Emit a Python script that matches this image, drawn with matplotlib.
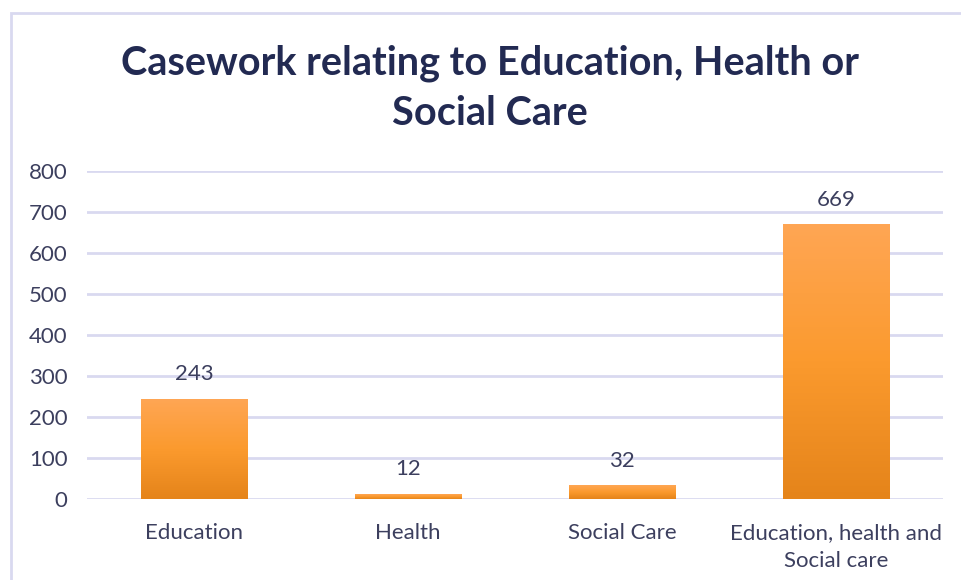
import matplotlib.pyplot as plt
import matplotlib.patches as mpatches
from matplotlib.colors import LinearSegmentedColormap
import numpy as np

categories = ["Education", "Health", "Social Care", "Education, health and\nSocial care"]
cases = [243, 12, 32, 669]
y_ticks = [0, 100, 200, 300, 400, 500, 600, 700, 800]

title_color = "#222a52"
text_color = "#3c3f5e"
grid_color = "#d9d9f0"

plt.rcParams['font.family'] = ['Lato', 'DejaVu Sans']

fig = plt.figure(figsize=(9.61, 5.8), dpi=100)
ax = fig.add_axes([87 / 961, 1 - 499 / 580, (943 - 87) / 961, (499 - 171) / 580])

# outer chart frame
fig.patches.append(mpatches.Rectangle((11 / 961, 0 - 0.1), 1.2, 1 - 13 / 580 + 0.1,
                                      transform=fig.transFigure, fill=False,
                                      edgecolor=grid_color, linewidth=2))

x = np.arange(len(categories))
bars = ax.bar(x, cases, width=0.5, color="#f7962b", edgecolor="none", zorder=2)

# vertical orange gradient, light at the top, darker at the bottom
cmap = LinearSegmentedColormap.from_list("bar", ["#e5841a", "#fb9a2e", "#ffa654"])
grad = np.linspace(0, 1, 256).reshape(-1, 1)
for b in bars:
    x0, w, h = b.get_x(), b.get_width(), b.get_height()
    ax.imshow(grad, cmap=cmap, origin="lower", aspect="auto",
              extent=[x0, x0 + w, 0, h], zorder=3)
    ax.annotate(f"{h:.0f}", (x0 + w / 2, h), xytext=(0, 18), textcoords="offset points",
                ha="center", va="center", fontsize=16, color=text_color, zorder=4)

ax.set_xlim(-0.5, len(categories) - 0.5)
ax.set_ylim(0, 800)
ax.set_yticks(y_ticks)
ax.set_xticks(x)
ax.set_xticklabels(categories, linespacing=1.5)
ax.tick_params(axis="both", length=0, labelsize=16, labelcolor=text_color)
ax.tick_params(axis="y", pad=14)
ax.tick_params(axis="x", pad=17)
ax.grid(axis="y", color=grid_color, linewidth=2, zorder=0)
ax.set_axisbelow(True)
for s in ax.spines.values():
    s.set_visible(False)

fig.text(490 / 961, 1 - 88 / 580, "Casework relating to Education, Health or\nSocial Care",
         ha="center", va="center", fontsize=28.5, fontweight="bold",
         color=title_color, linespacing=1.45)

fig.savefig("out.png", dpi=100)
